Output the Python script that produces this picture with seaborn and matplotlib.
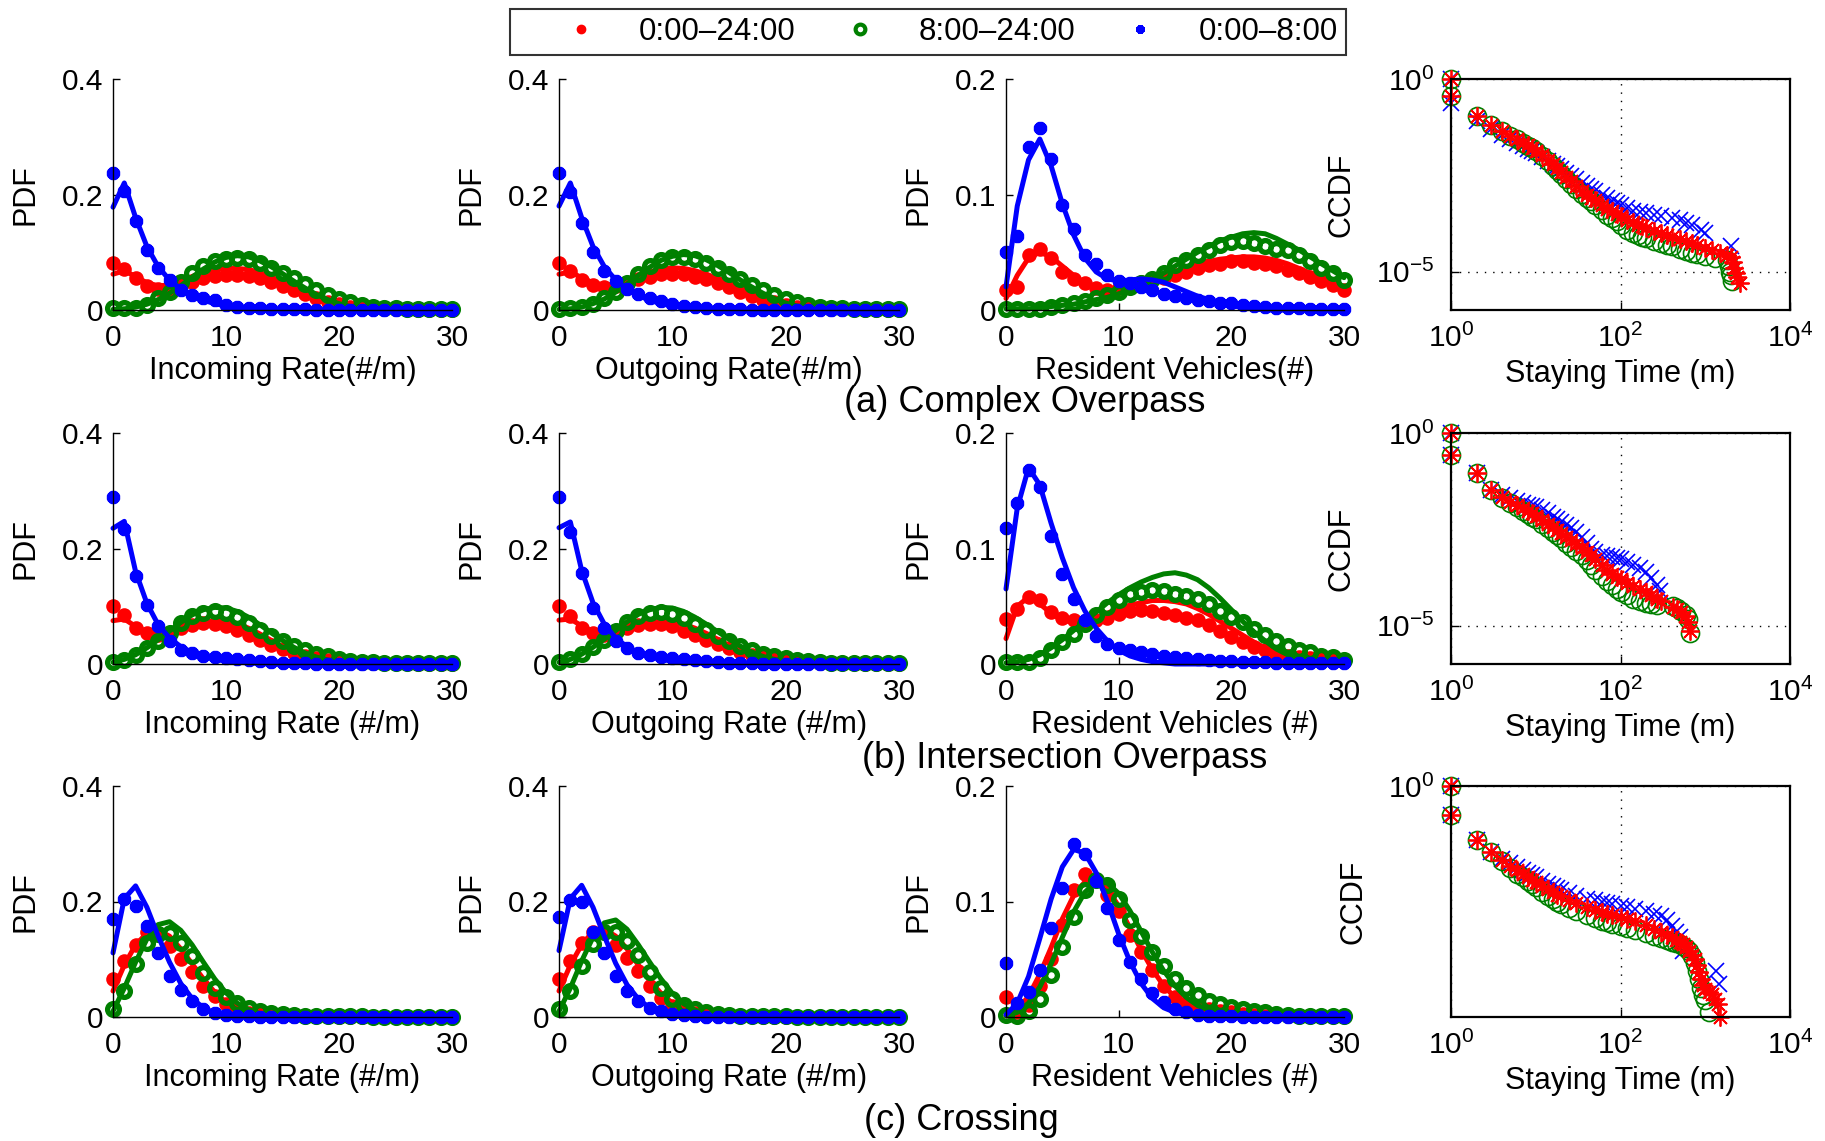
import numpy as np
import matplotlib
matplotlib.use("Agg")
import matplotlib.pyplot as plt
from matplotlib.lines import Line2D
from matplotlib.ticker import FixedLocator, FuncFormatter, LogFormatterMathtext, NullLocator
import seaborn as sns

# ---------------------------------------------------------------- data (PDF panels)
x_vals = [0, 1, 2, 3, 4, 5, 6, 7, 8, 9, 10, 11, 12, 13, 14, 15, 16, 17, 18, 19,
          20, 21, 22, 23, 24, 25, 26, 27, 28, 29, 30]

# (a) Complex Overpass - Incoming Rate
a1_red_pts = [0.081,0.071,0.055,0.041,0.036,0.035,0.041,0.049,0.055,0.059, 0.061,0.061,0.059,0.055,0.049,0.042,0.035,0.027,0.020,0.014, 0.010,0.006,0.004,0.003,0.002,0.001,0.001,0,0,0, 0]
a1_red_fit = [0.062,0.068,0.058,0.047,0.042,0.043,0.050,0.058,0.065,0.070, 0.072,0.072,0.070,0.065,0.057,0.048,0.038,0.028,0.019,0.011, 0.005,0.002,0,0,0,0,0,0,0,0, 0]
a1_green_pts = [0.003,0.003,0.004,0.009,0.020,0.032,0.049,0.064,0.077,0.084, 0.088,0.090,0.088,0.082,0.072,0.064,0.055,0.045,0.035,0.026, 0.019,0.013,0.009,0.006,0.004,0.003,0.002,0.001,0.001,0.001, 0.001]
a1_green_fit = [0.001,0.002,0.005,0.010,0.018,0.029,0.042,0.057,0.071,0.083, 0.091,0.094,0.092,0.085,0.075,0.063,0.050,0.038,0.027,0.018, 0.011,0.006,0.003,0.001,0,0,0,0,0,0, 0]
a1_blue_pts = [0.238,0.206,0.154,0.104,0.072,0.052,0.035,0.026,0.020,0.017, 0.009,0.006,0.004,0.003,0.002,0.001,0.001,0.001,0,0, 0,0,0,0,0,0,0,0,0,0, 0]
a1_blue_fit = [0.178,0.220,0.160,0.110,0.075,0.052,0.036,0.025,0.017,0.011, 0.007,0.004,0.002,0.001,0,0,0,0,0,0, 0,0,0,0,0,0,0,0,0,0, 0]

# (a) Complex Overpass - Outgoing Rate
a2_red_pts = [0.082,0.068,0.052,0.043,0.040,0.041,0.046,0.053,0.058,0.062, 0.063,0.062,0.058,0.053,0.046,0.039,0.032,0.025,0.018,0.013, 0.009,0.006,0.004,0.003,0.002,0.001,0.001,0,0,0, 0]
a2_red_fit = [0.062,0.066,0.056,0.047,0.043,0.045,0.051,0.059,0.066,0.071, 0.073,0.072,0.068,0.062,0.054,0.045,0.035,0.026,0.017,0.010, 0.005,0.002,0.001,0,0,0,0,0,0,0, 0]
a2_green_pts = [0.002,0.003,0.006,0.011,0.020,0.032,0.047,0.063,0.076,0.086, 0.091,0.092,0.089,0.082,0.073,0.063,0.053,0.043,0.034,0.026, 0.019,0.013,0.009,0.006,0.004,0.003,0.002,0.001,0.001,0.001, 0.001]
a2_green_fit = [0.001,0.002,0.005,0.011,0.019,0.031,0.045,0.060,0.074,0.086, 0.093,0.096,0.094,0.087,0.077,0.065,0.052,0.040,0.029,0.020, 0.012,0.007,0.004,0.002,0.001,0,0,0,0,0, 0]
a2_blue_pts = [0.238,0.205,0.150,0.100,0.068,0.050,0.036,0.027,0.020,0.015, 0.010,0.007,0.005,0.003,0.002,0.001,0.001,0,0,0, 0,0,0,0,0,0,0,0,0,0, 0]
a2_blue_fit = [0.180,0.220,0.160,0.110,0.075,0.052,0.036,0.025,0.017,0.011, 0.007,0.004,0.002,0.001,0,0,0,0,0,0, 0,0,0,0,0,0,0,0,0,0, 0]

# (a) Complex Overpass - Resident Vehicles
a3_red_pts = [0.017,0.020,0.048,0.053,0.045,0.033,0.027,0.023,0.019,0.017, 0.019,0.021,0.024,0.026,0.028,0.030,0.033,0.036,0.039,0.040, 0.042,0.042,0.041,0.040,0.038,0.035,0.032,0.029,0.025,0.022, 0.017]
a3_red_fit = [0.010,0.030,0.045,0.050,0.046,0.038,0.030,0.023,0.019,0.017, 0.018,0.020,0.023,0.026,0.030,0.033,0.037,0.040,0.042,0.044, 0.045,0.046,0.046,0.045,0.043,0.040,0.036,0.032,0.027,0.023, 0.018]
a3_green_pts = [0.001,0.001,0.001,0.001,0.003,0.004,0.006,0.008,0.010,0.013, 0.016,0.020,0.023,0.027,0.032,0.039,0.043,0.048,0.052,0.056, 0.059,0.060,0.058,0.055,0.053,0.052,0.048,0.042,0.036,0.032, 0.026]
a3_green_fit = [0.001,0.001,0.001,0.002,0.003,0.004,0.005,0.007,0.009,0.011, 0.014,0.018,0.022,0.027,0.032,0.038,0.044,0.050,0.055,0.060, 0.063,0.066,0.067,0.066,0.062,0.057,0.052,0.046,0.040,0.034, 0.028]
a3_blue_pts = [0.050,0.064,0.141,0.158,0.131,0.091,0.070,0.048,0.040,0.030, 0.025,0.023,0.020,0.017,0.014,0.012,0.010,0.009,0.008,0.006, 0.006,0.004,0.0035,0.003,0.002,0.002,0.002,0.001,0.001,0.001, 0.001]
a3_blue_fit = [0.020,0.090,0.130,0.148,0.125,0.092,0.065,0.045,0.033,0.027, 0.025,0.026,0.027,0.026,0.024,0.020,0.016,0.012,0.009,0.006, 0.004,0.002,0.001,0,0,0,0,0,0,0, 0]

# (b) Intersection Overpass - Incoming Rate
b1_red_pts = [0.100,0.084,0.062,0.054,0.051,0.054,0.062,0.068,0.071,0.070, 0.065,0.059,0.051,0.042,0.033,0.026,0.019,0.014,0.010,0.0075, 0.006,0.004,0.003,0.002,0.001,0.001,0.001,0,0,0, 0]
b1_red_fit = [0.075,0.078,0.065,0.055,0.052,0.055,0.062,0.068,0.073,0.075, 0.074,0.070,0.062,0.052,0.041,0.030,0.020,0.012,0.006,0.003, 0.001,0,0,0,0,0,0,0,0,0, 0]
b1_green_pts = [0.003,0.0075,0.016,0.028,0.039,0.054,0.071,0.083,0.089,0.091, 0.088,0.081,0.071,0.059,0.048,0.039,0.031,0.024,0.017,0.013, 0.009,0.006,0.004,0.003,0.002,0.001,0.001,0.001,0.001,0.001, 0.001]
b1_green_fit = [0.003,0.008,0.016,0.028,0.042,0.057,0.072,0.085,0.094,0.098, 0.097,0.091,0.081,0.068,0.054,0.041,0.029,0.019,0.012,0.007, 0.004,0.002,0.001,0,0,0,0,0,0,0, 0]
b1_blue_pts = [0.290,0.233,0.152,0.103,0.065,0.039,0.025,0.019,0.014,0.012, 0.010,0.009,0.0075,0.005,0.003,0.002,0.001,0.001,0,0, 0,0,0,0,0,0,0,0,0,0, 0]
b1_blue_fit = [0.235,0.247,0.160,0.105,0.068,0.045,0.030,0.020,0.013,0.008, 0.005,0.003,0.002,0.001,0,0,0,0,0,0, 0,0,0,0,0,0,0,0,0,0, 0]

# (b) Intersection Overpass - Outgoing Rate
b2_red_pts = [0.100,0.083,0.062,0.054,0.051,0.056,0.062,0.068,0.070,0.070, 0.065,0.058,0.051,0.042,0.035,0.028,0.021,0.016,0.012,0.0085, 0.006,0.004,0.003,0.002,0.001,0.001,0.001,0,0,0, 0]
b2_red_fit = [0.076,0.078,0.066,0.056,0.053,0.056,0.062,0.068,0.072,0.074, 0.073,0.069,0.062,0.053,0.043,0.032,0.022,0.014,0.008,0.004, 0.002,0.001,0,0,0,0,0,0,0,0, 0]
b2_green_pts = [0.003,0.008,0.017,0.030,0.042,0.057,0.073,0.083,0.089,0.090, 0.087,0.080,0.070,0.059,0.049,0.040,0.032,0.025,0.018,0.013, 0.010,0.007,0.005,0.003,0.002,0.001,0.001,0.001,0.001,0.001, 0.001]
b2_green_fit = [0.003,0.008,0.017,0.029,0.043,0.058,0.073,0.086,0.094,0.098, 0.097,0.091,0.081,0.069,0.056,0.043,0.031,0.021,0.013,0.008, 0.004,0.002,0.001,0,0,0,0,0,0,0, 0]
b2_blue_pts = [0.290,0.229,0.158,0.097,0.062,0.039,0.028,0.019,0.015,0.012, 0.010,0.009,0.007,0.005,0.003,0.002,0.001,0.001,0,0, 0,0,0,0,0,0,0,0,0,0, 0]
b2_blue_fit = [0.236,0.246,0.162,0.106,0.069,0.045,0.030,0.020,0.013,0.008, 0.005,0.003,0.002,0.001,0,0,0,0,0,0, 0,0,0,0,0,0,0,0,0,0, 0]

# (b) Intersection Overpass - Resident Vehicles
b3_red_pts = [0.039,0.048,0.058,0.055,0.045,0.040,0.038,0.035,0.038,0.040, 0.043,0.046,0.047,0.046,0.044,0.042,0.040,0.038,0.034,0.029, 0.023,0.019,0.015,0.012,0.009,0.007,0.006,0.005,0.004,0.0035, 0.003]
b3_red_fit = [0.022,0.050,0.058,0.052,0.044,0.038,0.036,0.037,0.040,0.044, 0.048,0.051,0.053,0.055,0.055,0.054,0.052,0.048,0.043,0.037, 0.031,0.025,0.019,0.014,0.010,0.007,0.004,0.003,0.002,0.001, 0.001]
b3_green_pts = [0.0015,0.002,0.002,0.005,0.012,0.019,0.026,0.035,0.042,0.049, 0.055,0.061,0.062,0.064,0.063,0.061,0.059,0.056,0.052,0.046, 0.041,0.036,0.030,0.025,0.020,0.016,0.012,0.010,0.007,0.006, 0.0035]
b3_green_fit = [0.001,0.002,0.004,0.008,0.014,0.021,0.029,0.037,0.045,0.053, 0.060,0.066,0.071,0.075,0.078,0.079,0.077,0.073,0.066,0.057, 0.047,0.037,0.028,0.020,0.013,0.008,0.005,0.003,0.002,0.001, 0]
b3_blue_pts = [0.118,0.139,0.168,0.153,0.111,0.078,0.056,0.038,0.024,0.017, 0.014,0.012,0.010,0.009,0.007,0.006,0.005,0.004,0.0035,0.003, 0.003,0.002,0.002,0.002,0.001,0.001,0.001,0.001,0.001,0.001, 0.001]
b3_blue_fit = [0.065,0.135,0.170,0.155,0.122,0.092,0.066,0.046,0.031,0.020, 0.012,0.007,0.004,0.002,0.001,0,0,0,0,0, 0,0,0,0,0,0,0,0,0,0, 0]

# (c) Crossing - Incoming Rate
c1_red_pts = [0.065,0.097,0.125,0.148,0.146,0.123,0.100,0.078,0.054,0.036, 0.022,0.013,0.0075,0.0045,0.003,0.002,0.001,0.001,0.001,0.001, 0,0,0,0,0,0,0,0,0,0, 0]
c1_red_fit = [0.045,0.090,0.125,0.145,0.150,0.140,0.118,0.092,0.066,0.043, 0.025,0.013,0.006,0.003,0.001,0,0,0,0,0, 0,0,0,0,0,0,0,0,0,0, 0]
c1_green_pts = [0.013,0.045,0.091,0.128,0.144,0.146,0.128,0.105,0.077,0.051, 0.035,0.024,0.016,0.010,0.0075,0.0045,0.003,0.002,0.001,0.001, 0.001,0.001,0.001,0,0,0,0,0,0,0, 0]
c1_green_fit = [0.010,0.050,0.095,0.135,0.160,0.165,0.150,0.125,0.095,0.066, 0.042,0.024,0.013,0.006,0.003,0.001,0,0,0,0, 0,0,0,0,0,0,0,0,0,0, 0]
c1_blue_pts = [0.170,0.204,0.193,0.157,0.111,0.071,0.047,0.028,0.014,0.007, 0.004,0.002,0.001,0,0,0,0,0,0,0, 0,0,0,0,0,0,0,0,0,0, 0]
c1_blue_fit = [0.111,0.205,0.227,0.190,0.140,0.095,0.058,0.032,0.016,0.007, 0.003,0.001,0,0,0,0,0,0,0,0, 0,0,0,0,0,0,0,0,0,0, 0]

# (c) Crossing - Outgoing Rate
c2_red_pts = [0.066,0.097,0.128,0.148,0.148,0.125,0.102,0.079,0.054,0.033, 0.019,0.011,0.0075,0.004,0.002,0.001,0.001,0.001,0,0, 0,0,0,0,0,0,0,0,0,0, 0]
c2_red_fit = [0.045,0.090,0.125,0.148,0.152,0.140,0.118,0.090,0.063,0.041, 0.024,0.012,0.006,0.002,0,0,0,0,0,0, 0,0,0,0,0,0,0,0,0,0, 0]
c2_green_pts = [0.013,0.045,0.088,0.127,0.148,0.148,0.131,0.108,0.078,0.051, 0.032,0.020,0.013,0.009,0.006,0.004,0.002,0.001,0.001,0.001, 0.001,0,0,0,0,0,0,0,0,0, 0]
c2_green_fit = [0.010,0.050,0.097,0.138,0.163,0.168,0.152,0.125,0.095,0.066, 0.041,0.023,0.012,0.005,0.002,0,0,0,0,0, 0,0,0,0,0,0,0,0,0,0, 0]
c2_blue_pts = [0.174,0.203,0.200,0.148,0.111,0.071,0.045,0.028,0.016,0.010, 0.005,0.003,0.002,0,0,0,0,0,0,0, 0,0,0,0,0,0,0,0,0,0, 0]
c2_blue_fit = [0.115,0.205,0.228,0.190,0.140,0.093,0.056,0.031,0.016,0.007, 0.003,0.001,0,0,0,0,0,0,0,0, 0,0,0,0,0,0,0,0,0,0, 0]

# (c) Crossing - Resident Vehicles
c3_red_pts = [0.017,0.004,0.010,0.027,0.050,0.080,0.110,0.124,0.119,0.106, 0.092,0.071,0.056,0.041,0.027,0.017,0.012,0.008,0.007,0.005, 0.004,0.003,0.002,0.001,0.001,0.001,0.001,0.001,0.001,0.001, 0.001]
c3_red_fit = [0.001,0.006,0.018,0.037,0.060,0.085,0.105,0.117,0.119,0.111, 0.096,0.077,0.058,0.041,0.027,0.017,0.010,0.006,0.003,0.002, 0.001,0,0,0,0,0,0,0,0,0, 0]
c3_green_pts = [0.002,0.001,0.005,0.016,0.036,0.061,0.087,0.110,0.119,0.114, 0.102,0.084,0.070,0.056,0.044,0.033,0.025,0.019,0.014,0.011, 0.009,0.007,0.005,0.004,0.003,0.002,0.001,0.001,0.001,0.001, 0.001]
c3_green_fit = [0.001,0.004,0.012,0.026,0.046,0.069,0.091,0.108,0.117,0.116, 0.107,0.092,0.074,0.056,0.040,0.027,0.017,0.010,0.006,0.003, 0.002,0.001,0,0,0,0,0,0,0,0, 0]
c3_blue_pts = [0.047,0.012,0.022,0.041,0.077,0.112,0.150,0.141,0.118,0.094, 0.067,0.048,0.033,0.021,0.013,0.007,0.004,0.002,0.001,0.001, 0.001,0,0,0,0,0,0,0,0,0, 0]
c3_blue_fit = [0.002,0.012,0.035,0.068,0.102,0.130,0.145,0.142,0.125,0.100, 0.072,0.048,0.029,0.016,0.008,0.004,0.002,0.001,0,0, 0,0,0,0,0,0,0,0,0,0, 0]

# ---------------------------------------------------------------- data (CCDF panels, log10 of CCDF)
ta_red = [1,1,2,3,4,5,6,7,8,9,10,12,14,16,18,20,23,26,30,35,40,45,50,60,70,80,90,100,120,140,160,180,200,250,300,350,400,500,600,700,800,1000,1200,1500,1800,2000,2100,2200,2300,2400,2600]
la_red = [0,-0.45,-0.97,-1.20,-1.36,-1.48,-1.57,-1.65,-1.72,-1.79,-1.86, -1.98,-2.10,-2.22,-2.32,-2.42, -2.55,-2.66,-2.78,-2.90,-3.00,-3.08,-3.15, -3.27,-3.37,-3.44,-3.50,-3.56, -3.65,-3.72,-3.78,-3.83,-3.87, -3.95,-4.01,-4.06,-4.10, -4.16,-4.22,-4.27,-4.32, -4.39,-4.45,-4.52,-4.57,-4.62, -4.75,-4.90,-5.05,-5.15,-5.30]
ta_green = [1,1,2,3,4,5,6,7,8,9,10,12,14,16,18,20,23,26,30,35,40,45,50,60,70,80,90,100,120,140,160,180,200,250,300,350,400,500,600,700,800,1000,1300,1800,1900,1950,2000,2050]
la_green = [0,-0.45,-0.97,-1.20,-1.36,-1.48,-1.57,-1.65,-1.73,-1.80,-1.88, -2.00,-2.13,-2.25,-2.36,-2.46, -2.60,-2.72,-2.85,-2.98,-3.09,-3.18,-3.26, -3.40,-3.52,-3.62,-3.70,-3.78, -3.92,-4.00,-4.06,-4.10,-4.14, -4.20,-4.26,-4.31,-4.35, -4.42,-4.48,-4.52,-4.55, -4.60,-4.64,-4.70, -4.85,-5.00,-5.10,-5.25]
ta_blue = [1,1,2,3,4,5,6,7,8,9,10,12,14,16,18,20,23,26,30,35,40,45,50,60,70,80,90,100,120,140,170,200,250,300,400,500,600,700,900,1000,2000]
la_blue = [0,-0.62,-1.08,-1.30,-1.45,-1.57,-1.67,-1.75,-1.82,-1.88,-1.93, -2.03,-2.12,-2.20,-2.27,-2.34, -2.43,-2.51,-2.60,-2.70,-2.78,-2.85,-2.92, -3.02,-3.10,-3.17,-3.22,-3.27, -3.36,-3.42,-3.46,-3.49,-3.52, -3.55,-3.60,-3.66,-3.74,-3.80, -3.92,-4.00,-4.35]

tb_red = [1,1,2,3,4,5,6,7,8,9,10,12,14,16,18,20,23,26,30,35,40,45,50,60,70,80,90,100,120,140,170,200,230,270,300,420,470,520,570,630,660]
lb_red = [0,-0.58,-1.03,-1.47,-1.66,-1.78,-1.87,-1.95,-2.02,-2.09,-2.15, -2.27,-2.37,-2.45,-2.53,-2.60, -2.70,-2.78,-2.88,-2.99,-3.09,-3.18,-3.27, -3.42,-3.56,-3.67,-3.74,-3.80, -3.90,-3.97,-4.05,-4.12,-4.20, -4.30,-4.36, -4.52,-4.58,-4.66,-4.75,-4.92,-5.15]
tb_green = [1,1,2,3,4,5,6,7,8,9,10,12,14,16,18,20,23,26,30,35,40,45,50,60,70,80,90,100,120,140,170,200,230,270,420,470,520,600,630,660]
lb_green = [0,-0.58,-1.03,-1.47,-1.68,-1.82,-1.93,-2.02,-2.10,-2.17,-2.24, -2.37,-2.48,-2.58,-2.66,-2.74, -2.85,-2.95,-3.06,-3.18,-3.30,-3.42,-3.55, -3.72,-3.85,-3.95,-4.05,-4.12, -4.22,-4.30,-4.36,-4.41,-4.45, -4.48, -4.50,-4.55,-4.62,-4.72,-4.84,-5.19]
tb_blue = [1,1,2,3,4,5,6,7,8,9,10,12,14,16,18,20,23,26,30,35,40,45,50,60,70,80,90,100,120,140,170,200,230,270,290]
lb_blue = [0,-0.58,-1.03,-1.47,-1.60,-1.70,-1.77,-1.82,-1.86,-1.90,-1.93, -2.01,-2.09,-2.17,-2.24,-2.30, -2.39,-2.48,-2.58,-2.70,-2.85,-3.00,-3.10, -3.18,-3.20,-3.22,-3.24,-3.26, -3.36,-3.44,-3.50,-3.62,-3.77, -3.95,-4.11]

tc_red = [1,1,2,3,4,5,6,7,8,9,10,12,14,16,18,20,25,30,40,50,60,70,80,100,120,150,200,250,300,350,400,450,500,550,600,650,700,750,800,850,900,950,1000,1100,1200,1300,1400,1500]
lc_red = [0,-0.50,-0.93,-1.15,-1.28,-1.38,-1.46,-1.52,-1.57,-1.62,-1.66, -1.73,-1.79,-1.84,-1.88,-1.91, -1.97,-2.02,-2.09,-2.14,-2.18, -2.21,-2.23,-2.27,-2.30,-2.34, -2.41,-2.47,-2.53,-2.58,-2.62, -2.66,-2.70,-2.74,-2.79,-2.85, -2.92,-3.00,-3.10,-3.22,-3.35, -3.45,-3.52,-3.56,-3.60,-3.68, -3.78,-4.00]
tc_green = [1,1,2,3,4,5,6,7,8,9,10,12,14,16,18,20,25,30,40,50,60,70,80,100,120,150,200,250,300,350,400,450,500,550,600,650,700,750,800,850,900,950,1000,1100]
lc_green = [0,-0.50,-0.93,-1.15,-1.30,-1.42,-1.52,-1.58,-1.64,-1.70,-1.75, -1.83,-1.90,-1.96,-2.00,-2.04, -2.12,-2.17,-2.24,-2.29,-2.33, -2.36,-2.39,-2.43,-2.46,-2.50, -2.55,-2.60,-2.64,-2.67,-2.70, -2.72,-2.74,-2.77,-2.80,-2.86, -2.95,-3.06,-3.20,-3.35,-3.50, -3.62,-3.70,-3.92]
tc_blue = [1,1,2,3,4,5,6,7,8,9,10,12,14,16,18,20,25,30,40,50,60,70,80,100,120,150,200,250,300,350,400,450,500,550,1350,1450]
lc_blue = [0,-0.50,-0.93,-1.15,-1.26,-1.34,-1.40,-1.45,-1.50,-1.54,-1.58, -1.64,-1.69,-1.73,-1.77,-1.80, -1.86,-1.90,-1.95,-1.98,-2.00, -2.02,-2.04,-2.07,-2.10,-2.13, -2.17,-2.21,-2.25,-2.32,-2.42, -2.52,-2.62,-2.85, -3.20,-3.43]

legend_labels = ["0:00\u201324:00", "8:00\u201324:00", "0:00\u20138:00"]
row_titles = ["(a) Complex Overpass", "(b) Intersection Overpass", "(c) Crossing"]
xlabels = [["Incoming Rate(#/m)", "Outgoing Rate(#/m)", "Resident Vehicles(#)", "Staying Time (m)"],
           ["Incoming Rate (#/m)", "Outgoing Rate (#/m)", "Resident Vehicles (#)", "Staying Time (m)"],
           ["Incoming Rate (#/m)", "Outgoing Rate (#/m)", "Resident Vehicles (#)", "Staying Time (m)"]]

# ---------------------------------------------------------------- style
sns.set_theme(style="ticks")
plt.rcParams.update({
    "font.family": ["Liberation Sans", "DejaVu Sans"],
    "mathtext.default": "regular",
    "axes.edgecolor": "black", "text.color": "black", "axes.labelcolor": "black",
    "xtick.color": "black", "ytick.color": "black",
    "font.size": 21,
})
RED = (1, 0, 0)
GREEN = (0, 0.5, 0)
BLUE = (0, 0, 1)
TICK_FS = 21.5
LABEL_FS = 22
W, H = 1825, 1141

fig = plt.figure(figsize=(W / 100, H / 100), dpi=100)

col_left = [113, 559, 1006, 1451]
col_width = [339, 340, 338, 339]
row_top = [79, 433, 786]
row_h = 231


def add_ax(r, c):
    l, w, t = col_left[c], col_width[c], row_top[r]
    return fig.add_axes([l / W, 1 - (t + row_h) / H, w / W, row_h / H])


def pts(ax, x, y, **kw):
    sns.lineplot(x=x, y=y, ax=ax, estimator=None, sort=False, linestyle="", legend=False, **kw)


def fit(ax, x, y, color):
    sns.lineplot(x=x, y=y, ax=ax, estimator=None, sort=False, color=color, linewidth=3.6, legend=False)


def pdf_panel(ax, data, ymax, xlabel):
    rp, rf, gp, gf, bp, bf = data
    pts(ax, x_vals, rp, marker="o", markersize=9, color=RED, markerfacecolor=RED, markeredgecolor=RED, markeredgewidth=1.5)
    fit(ax, x_vals, rf, RED)
    pts(ax, x_vals, gp, marker="o", markersize=8.5, color=GREEN, markerfacecolor="none", markeredgecolor=GREEN, markeredgewidth=3.8)
    fit(ax, x_vals, gf, GREEN)
    pts(ax, x_vals, bp, marker=(8, 2, 0), markersize=9.5, color=BLUE, markeredgecolor=BLUE, markeredgewidth=3.0)
    fit(ax, x_vals, bf, BLUE)
    for ln in ax.lines:
        ln.set_clip_on(False)
    ax.set_xlim(0, 30)
    ax.set_ylim(0, ymax)
    ax.xaxis.set_major_locator(FixedLocator([0, 10, 20, 30]))
    ax.yaxis.set_major_locator(FixedLocator([0, ymax / 2, ymax]))
    ax.yaxis.set_major_formatter(FuncFormatter(lambda v, p: "%g" % round(v, 3)))
    for s in ["top", "right"]:
        ax.spines[s].set_visible(False)
    for s in ["left", "bottom"]:
        ax.spines[s].set_linewidth(1.0)
    ax.tick_params(axis="both", direction="in", length=5, width=1, labelsize=TICK_FS)
    ax.tick_params(axis="x", pad=10)
    ax.tick_params(axis="y", pad=7)
    ax.set_xlabel(xlabel, fontsize=LABEL_FS, labelpad=3)
    ax.set_ylabel("PDF", fontsize=LABEL_FS, labelpad=15)


def ccdf_panel(ax, series, ylow, xlabel):
    (tb, lb), (tg, lg), (tr, lr) = series
    pts(ax, tb, np.power(10.0, lb), marker="x", markersize=11, color=BLUE, markeredgecolor=BLUE, markeredgewidth=1.2)
    pts(ax, tg, np.power(10.0, lg), marker="o", markersize=13, color=GREEN, markerfacecolor="none", markeredgecolor=GREEN, markeredgewidth=1.2)
    pts(ax, tr, np.power(10.0, lr), marker=(8, 2, 0), markersize=13, color=RED, markeredgecolor=RED, markeredgewidth=1.3)
    for ln in ax.lines:
        ln.set_clip_on(False)
    ax.set_xscale("log")
    ax.set_yscale("log")
    ax.set_xlim(1, 1e4)
    ax.set_ylim(ylow, 1)
    ax.xaxis.set_major_locator(FixedLocator([1, 1e2, 1e4]))
    ax.yaxis.set_major_locator(FixedLocator([1e-5, 1]))
    ax.xaxis.set_major_formatter(LogFormatterMathtext())
    ax.yaxis.set_major_formatter(LogFormatterMathtext())
    ax.xaxis.set_minor_locator(NullLocator())
    ax.yaxis.set_minor_locator(NullLocator())
    ax.grid(True, which="major", color="black", linestyle=(0, (1, 5)), linewidth=1.0)
    for s in ax.spines.values():
        s.set_visible(True)
        s.set_linewidth(1.6)
    ax.tick_params(axis="both", direction="in", length=6, width=1, labelsize=TICK_FS)
    ax.tick_params(axis="x", pad=10)
    ax.tick_params(axis="y", pad=12)
    ax.set_xlabel(xlabel, fontsize=LABEL_FS, labelpad=4)
    ax.set_ylabel("CCDF", fontsize=LABEL_FS, labelpad=14)


pdf_data = [
    [(a1_red_pts, a1_red_fit, a1_green_pts, a1_green_fit, a1_blue_pts, a1_blue_fit),
     (a2_red_pts, a2_red_fit, a2_green_pts, a2_green_fit, a2_blue_pts, a2_blue_fit),
     (a3_red_pts, a3_red_fit, a3_green_pts, a3_green_fit, a3_blue_pts, a3_blue_fit)],
    [(b1_red_pts, b1_red_fit, b1_green_pts, b1_green_fit, b1_blue_pts, b1_blue_fit),
     (b2_red_pts, b2_red_fit, b2_green_pts, b2_green_fit, b2_blue_pts, b2_blue_fit),
     (b3_red_pts, b3_red_fit, b3_green_pts, b3_green_fit, b3_blue_pts, b3_blue_fit)],
    [(c1_red_pts, c1_red_fit, c1_green_pts, c1_green_fit, c1_blue_pts, c1_blue_fit),
     (c2_red_pts, c2_red_fit, c2_green_pts, c2_green_fit, c2_blue_pts, c2_blue_fit),
     (c3_red_pts, c3_red_fit, c3_green_pts, c3_green_fit, c3_blue_pts, c3_blue_fit)],
]
ymaxes = [0.4, 0.4, 0.2]
ccdf_data = [
    ([(ta_blue, la_blue), (ta_green, la_green), (ta_red, la_red)], 1e-6),
    ([(tb_blue, lb_blue), (tb_green, lb_green), (tb_red, lb_red)], 1e-6),
    ([(tc_blue, lc_blue), (tc_green, lc_green), (tc_red, lc_red)], 1e-4),
]

for r in range(3):
    for c in range(3):
        ax = add_ax(r, c)
        pdf_panel(ax, pdf_data[r][c], ymaxes[c], xlabels[r][c])
    ax = add_ax(r, 3)
    series, ylow = ccdf_data[r]
    ccdf_panel(ax, series, ylow, xlabels[r][3])

# row titles
title_pos = [(1025, 403), (1065, 758), (961, 1121)]
for txt, (tx, ty) in zip(row_titles, title_pos):
    fig.text(tx / W, 1 - ty / H, txt, ha="center", va="center", fontsize=26)

# legend
handles = [
    Line2D([], [], linestyle="", marker="o", markersize=6, color=RED, markeredgecolor=RED),
    Line2D([], [], linestyle="", marker="o", markersize=7, color=GREEN, markerfacecolor="none", markeredgecolor=GREEN, markeredgewidth=3),
    Line2D([], [], linestyle="", marker=(8, 2, 0), markersize=6, color=BLUE, markeredgecolor=BLUE, markeredgewidth=2.5),
]
leg = fig.legend(handles, legend_labels, loc="center", bbox_to_anchor=(928 / W, 1 - 32 / H),
                 ncol=3, fontsize=22.5, frameon=True, fancybox=False, edgecolor="black",
                 borderpad=0.25, handlelength=4.0, handletextpad=-0.13, columnspacing=0.07,
                 borderaxespad=0)
leg.get_frame().set_linewidth(1.5)

fig.savefig("out.png", dpi=100)
